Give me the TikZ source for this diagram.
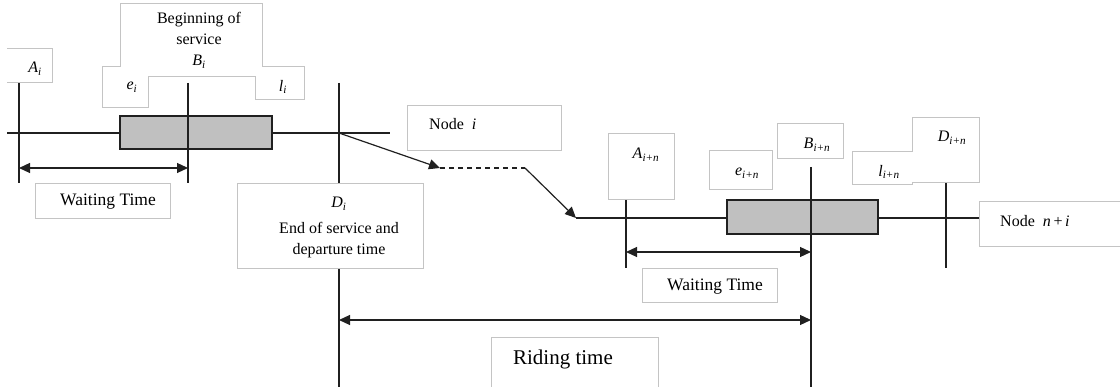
\documentclass[tikz,border=0pt]{standalone}
\usepackage{fontspec}
\setmainfont{Liberation Serif}
\usetikzlibrary{arrows.meta}
\newcommand{\vsub}[2]{\textit{#1}\textsubscript{\itshape #2}}
\definecolor{boxgray}{HTML}{C4C4C4}
\definecolor{shade}{HTML}{C0C0C0}
\definecolor{ink}{HTML}{202020}
\begin{document}
\begin{tikzpicture}[x=1pt,y=-1pt,
  lbl/.style={inner sep=0pt,font=\fontsize{16}{19}\selectfont},
  frame/.style={draw=boxgray,line width=0.9pt,fill=white},
  axis/.style={draw=ink,line width=1.2pt},
  tick/.style={draw=ink,line width=1.2pt},
  span/.style={draw=ink,line width=1.2pt,{Triangle[length=11pt,width=10pt]}-{Triangle[length=11pt,width=10pt]}},
  flow/.style={draw=ink,line width=1.2pt,-{Triangle[length=11pt,width=10pt]}},
  busy/.style={draw=ink,line width=1.2pt,fill=shade}]
\useasboundingbox (0,0) rectangle (1120,387);

% ---------- key coordinates ----------
\coordinate (Lstart) at (7,133);
\coordinate (Lend) at (390,133);
\coordinate (AiT) at (19,82);   \coordinate (AiB) at (19,183);
\coordinate (BiT) at (188,83);  \coordinate (BiB) at (188,183);
\coordinate (DiT) at (339,83);  \coordinate (DiB) at (339,387);
\coordinate (Di) at (339,133);
\coordinate (WaitL) at (19,168); \coordinate (WaitR) at (188,168);
\coordinate (dashA) at (440,168); \coordinate (dashB) at (525,168);
\coordinate (Rstart) at (576,218); \coordinate (Rend) at (979,218);
\coordinate (AnT) at (626,199); \coordinate (AnB) at (626,268);
\coordinate (BnT) at (811,167); \coordinate (BnB) at (811,387);
\coordinate (DnT) at (946,167); \coordinate (DnB) at (946,268);
\coordinate (Wait2L) at (626,252); \coordinate (Wait2R) at (811,252);
\coordinate (RideL) at (339,320); \coordinate (RideR) at (811,320);

% ---------- time lines ----------
\draw[axis] (Lstart) -- (Lend);
\draw[busy] (120,116) rectangle (272,149);
\draw[axis] (Rstart) -- (Rend);
\draw[busy] (727,200) rectangle (878,234);

\draw[tick] (AiT) -- (AiB);
\draw[tick] (BiT) -- (BiB);
\draw[tick] (DiT) -- (DiB);
\draw[tick] (AnT) -- (AnB);
\draw[tick] (BnT) -- (BnB);
\draw[tick] (DnT) -- (DnB);

\draw[span] (WaitL) -- (WaitR);
\draw[span] (Wait2L) -- (Wait2R);
\draw[span] (RideL) -- (RideR);

\draw[flow] (Di) -- (dashA);
\draw[ink,line width=1.2pt,dash pattern=on 5pt off 4pt] (dashA) -- (dashB);
\draw[flow] (dashB) -- (Rstart);

% ---------- frames (text boxes) ----------
\fill[white] (7,48) rectangle (52,82);
\draw[draw=boxgray,line width=0.9pt] (7,48) -- (52,48) -- (52,82) -- (7,82);
\draw[frame] (120,3) -- (120,66) -- (102,66) -- (102,107) -- (148,107) -- (148,76)
  -- (255,76) -- (255,99) -- (304,99) -- (304,66) -- (262,66) -- (262,3) -- cycle;
\draw[frame] (35,183) rectangle (170,218);
\draw[frame] (237,183) rectangle (423,268);
\draw[frame] (407,105) rectangle (561,150);
\draw[frame] (608,133) rectangle (674,199);
\draw[frame] (709,150) rectangle (772,189);
\draw[frame] (777,123) rectangle (843,158);
\draw[frame] (852,151) -- (912,151) -- (912,117) -- (979,117) -- (979,182)
  -- (912,182) -- (912,184) -- (852,184) -- cycle;
\fill[white] (979,201) rectangle (1125,246);
\draw[draw=boxgray,line width=0.9pt] (1125,201) -- (979,201) -- (979,246) -- (1125,246);
\draw[frame] (642,268) rectangle (777,302);
\fill[white] (491,337) rectangle (658,392);
\draw[draw=boxgray,line width=0.9pt] (491,392) -- (491,337) -- (658,337) -- (658,392);

% ---------- labels ----------
\node[lbl] (tAi) at (35,69) {\vsub{A}{i}};
\node[lbl] (tBeg) at (199,20) {Beginning of};
\node[lbl] (tServ) at (199,39) {service};
\node[lbl] (tBi) at (199,62) {\vsub{B}{i}};
\node[lbl] (tei) at (132,87) {\vsub{e}{i}};
\node[lbl] (tli) at (283,87) {\vsub{l}{i}};
\node[lbl,font=\fontsize{17.5}{20}\selectfont] (tW1) at (108,202) {Waiting Time};
\node[lbl] (tDi) at (339,204) {\vsub{D}{i}};
\node[lbl] (tEnd) at (339,228) {End of service and};
\node[lbl] (tDep) at (339,251) {departure time};
\node[lbl,anchor=west] (tNi) at (429,124) {Node\ \ \textit{i}};
\node[lbl] (tAn) at (646,155) {\vsub{A}{i+n}};
\node[lbl] (ten) at (747,173) {\vsub{e}{i+n}};
\node[lbl] (tBn) at (817,145) {\vsub{B}{i+n}};
\node[lbl] (tln) at (889,172) {\vsub{l}{i+n}};
\node[lbl] (tDn) at (952,138) {\vsub{D}{i+n}};
\node[lbl,anchor=west] (tNn) at (1000,221) {Node\ \ \textit{n}\,+\,\textit{i}};
\node[lbl,font=\fontsize{17.5}{20}\selectfont] (tW2) at (715,287) {Waiting Time};
\node[lbl,font=\fontsize{21}{24}\selectfont] (tRide) at (563,359) {Riding time};
\end{tikzpicture}
\end{document}
